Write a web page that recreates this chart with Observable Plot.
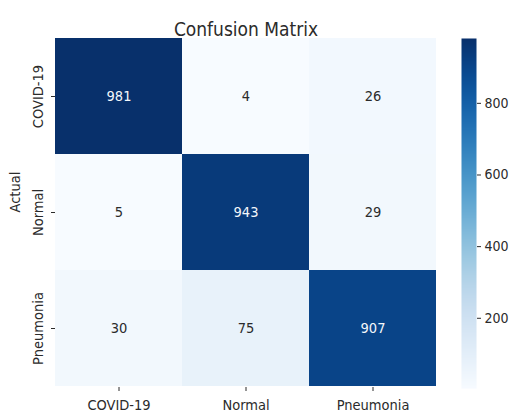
<!DOCTYPE html>
<html>
<head>
<meta charset="utf-8">
<script src="https://cdn.jsdelivr.net/npm/d3@7"></script>
<script src="https://cdn.jsdelivr.net/npm/@observablehq/plot@0.6"></script>
<style>
  body { margin: 0; background: #fff; }
  #chart { position: relative; width: 515px; height: 416px; }
  #chart svg { position: absolute; top: 0; }
</style>
</head>
<body>
<div id="chart"></div>
<script>
// Confusion matrix of a three-class chest X-ray classifier
const classes = ["COVID-19", "Normal", "Pneumonia"];
const actualLabels = classes;
const predictedLabels = classes;
const countsCovid = [981, 4, 26];
const countsNormal = [5, 943, 29];
const countsPneumonia = [30, 75, 907];
const colorbarTicks = [200, 400, 600, 800];
const titleText = "Confusion Matrix";
const yAxisLabel = "Actual";

const rows = [countsCovid, countsNormal, countsPneumonia];
const cells = rows.flatMap((row, i) =>
  row.map((value, j) => ({actual: actualLabels[i], predicted: predictedLabels[j], value}))
);
const allValues = rows.flat();
const vmin = d3.min(allValues);
const vmax = d3.max(allValues);
const colorScale = {type: "linear", scheme: "blues", domain: [vmin, vmax]};
const textColor = "#2b2b2b";
const font = "'DejaVu Sans Condensed', 'DejaVu Sans', sans-serif";

const chart = document.getElementById("chart");

// Heatmap with annotations
const heat = Plot.plot({
  width: 515,
  height: 416,
  marginLeft: 55,
  marginRight: 79,
  marginTop: 37,
  marginBottom: 29,
  style: {fontFamily: font, fontSize: "14.5px", color: textColor, background: "transparent", overflow: "visible"},
  x: {domain: predictedLabels, padding: 0, axis: null},
  y: {domain: actualLabels, padding: 0, axis: null},
  color: colorScale,
  marks: [
    Plot.cell(cells, {x: "predicted", y: "actual", fill: "value", inset: 0}),
    Plot.text(cells, {
      x: "predicted", y: "actual",
      text: d => String(d.value),
      fill: d => d.value > (vmin + vmax) / 2 ? "#f4f7fb" : textColor,
      fontSize: 14.5
    }),
    Plot.axisX({anchor: "bottom", tickSize: 4, tickPadding: 8, label: null, fontSize: 14.5}),
    Plot.axisY({anchor: "left", tickSize: 4, tickRotate: -90, tickPadding: 9, label: null, fontSize: 14.5}),
    Plot.text([yAxisLabel], {frameAnchor: "left", dx: -40, rotate: -90, fontSize: 14.5, fill: textColor}),
    Plot.text([titleText], {frameAnchor: "top", dy: -15, fontSize: 19, fill: textColor})
  ]
});
heat.style.left = "0px";
chart.appendChild(heat);

// Vertical colorbar
const bar = Plot.plot({
  width: 54,
  height: 416,
  marginLeft: 0,
  marginRight: 39,
  marginTop: 38,
  marginBottom: 28,
  style: {fontFamily: font, fontSize: "14px", color: textColor, background: "transparent"},
  x: {domain: [0, 1], axis: null},
  y: {domain: [vmin, vmax]},
  color: colorScale,
  marks: [
    Plot.raster({x1: 0, x2: 1, y1: vmin, y2: vmax, width: 1, height: 350, fill: (x, y) => y, interpolate: "none", imageRendering: "auto"}),
    Plot.axisY(colorbarTicks, {anchor: "right", tickSize: 4, tickPadding: 4, label: null, fontSize: 14})
  ]
});
bar.style.left = "461px";
chart.appendChild(bar);
</script>
</body>
</html>
